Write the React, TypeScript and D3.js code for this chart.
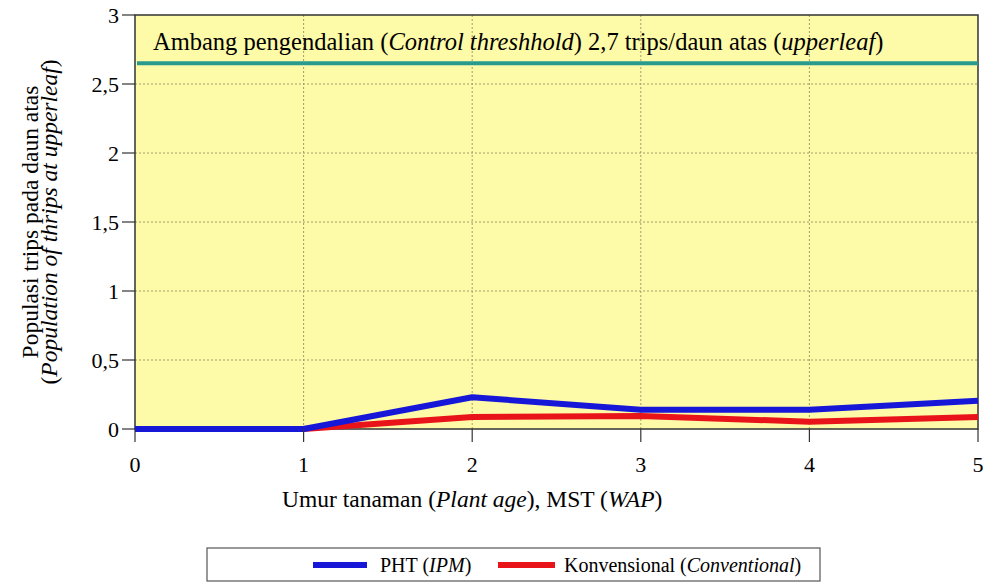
import React from 'react';
import * as d3 from 'd3';

const weeks = [0, 1, 2, 3, 4, 5];
const phtValues = [0, 0, 0.23, 0.14, 0.14, 0.205];
const konvValues = [0, 0, 0.087, 0.094, 0.053, 0.087];
const yTicks = [0, 0.5, 1, 1.5, 2, 2.5, 3];
const yTickLabels = ['0', '0,5', '1', '1,5', '2', '2,5', '3'];
const threshold = 2.65;

const W = 988;
const H = 582;
const margin = { top: 15, right: 10, bottom: 153, left: 135 };
const font = '"Liberation Serif", "Times New Roman", serif';

const App = () => {
    const x = d3.scaleLinear().domain([0, 5]).range([margin.left, W - margin.right]);
    const y = d3.scaleLinear().domain([0, 3]).range([H - margin.bottom, margin.top]);

    const lineGen = d3.line<number>()
        .x((d, i) => x(weeks[i]))
        .y(d => y(d));

    const x0 = x(0), x1 = x(5), y0 = y(0), y1 = y(3);

    return (
        <svg width={W} height={H} style={{ position: 'absolute', left: 0, top: 0, background: '#fff' }}>
            <rect x={x0} y={y1} width={x1 - x0} height={y0 - y1} fill="#fdfaa8" />

            {/* grid */}
            {yTicks.slice(1, -1).map(t => (
                <line key={'gy' + t} x1={x0} x2={x1} y1={y(t)} y2={y(t)}
                    stroke="#a09e6a" strokeWidth={1} strokeDasharray="2,2" />
            ))}
            {weeks.slice(1, -1).map(w => (
                <line key={'gx' + w} x1={x(w)} x2={x(w)} y1={y1} y2={y0}
                    stroke="#a09e6a" strokeWidth={1} strokeDasharray="2,2" />
            ))}

            {/* frame */}
            <rect x={x0} y={y1} width={x1 - x0} height={y0 - y1} fill="none" stroke="#333" strokeWidth={1.5} />

            {/* threshold */}
            <line x1={x0 + 2} x2={x1} y1={y(threshold)} y2={y(threshold)} stroke="#2a9a8e" strokeWidth={4} />
            <text x={x0 + 18} y={50} fontFamily={font} fontSize={24.5} fill="#000">
                Ambang pengendalian (<tspan fontStyle="italic">Control threshhold</tspan>) 2,7 trips/daun atas (<tspan fontStyle="italic">upperleaf</tspan>)
            </text>

            {/* series */}
            <path d={lineGen(konvValues) || ''} fill="none" stroke="#e8141a" strokeWidth={6} strokeLinejoin="round" />
            <path d={lineGen(phtValues) || ''} fill="none" stroke="#1717d8" strokeWidth={6} strokeLinejoin="round" />

            {/* y axis */}
            {yTicks.map((t, i) => (
                <g key={'yt' + t}>
                    <line x1={x0 - 13} x2={x0} y1={y(t)} y2={y(t)} stroke="#333" strokeWidth={1.2} />
                    <text x={x0 - 16} y={y(t)} dy="0.35em" textAnchor="end" fontFamily={font} fontSize={22}>
                        {yTickLabels[i]}
                    </text>
                </g>
            ))}

            {/* x axis */}
            {weeks.map(w => (
                <g key={'xt' + w}>
                    <line x1={x(w)} x2={x(w)} y1={y0} y2={y0 + 13} stroke="#333" strokeWidth={1.2} />
                    <text x={x(w)} y={472} textAnchor="middle" fontFamily={font} fontSize={22}>
                        {w}
                    </text>
                </g>
            ))}

            <text x={x(2)} y={507} textAnchor="middle" fontFamily={font} fontSize={23.5}>
                Umur tanaman (<tspan fontStyle="italic">Plant age</tspan>), MST (<tspan fontStyle="italic">WAP</tspan>)
            </text>

            <g transform={`translate(38, ${(y0 + y1) / 2}) rotate(-90)`}>
                <text textAnchor="middle" fontFamily={font} fontSize={23.5}>Populasi trips pada daun atas</text>
                <text y={19} textAnchor="middle" fontFamily={font} fontSize={23.5}>
                    (<tspan fontStyle="italic">Population of thrips at upperleaf</tspan>)
                </text>
            </g>

            {/* legend */}
            <rect x={207} y={548} width={613} height={33} fill="#fff" stroke="#555" strokeWidth={1.2} />
            <line x1={313} x2={367} y1={565} y2={565} stroke="#1717d8" strokeWidth={6} />
            <text x={380} y={565} dy="0.35em" fontFamily={font} fontSize={20}>
                PHT (<tspan fontStyle="italic">IPM</tspan>)
            </text>
            <line x1={498} x2={555} y1={565} y2={565} stroke="#e8141a" strokeWidth={6} />
            <text x={564} y={565} dy="0.35em" fontFamily={font} fontSize={20}>
                Konvensional (<tspan fontStyle="italic">Conventional</tspan>)
            </text>
        </svg>
    );
};

export default App;
